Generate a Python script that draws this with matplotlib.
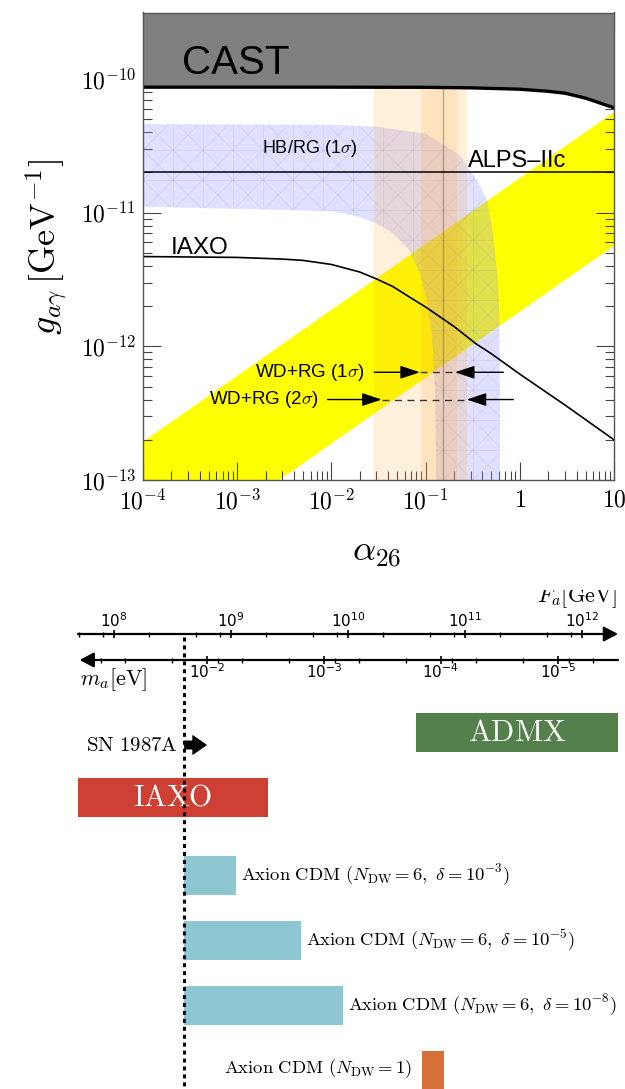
import matplotlib
matplotlib.use('Agg')
from matplotlib import pyplot as plt
from matplotlib.ticker import FixedLocator, FixedFormatter, NullFormatter, LogLocator
from matplotlib.transforms import offset_copy, blended_transform_factory, IdentityTransform

plt.rcParams['mathtext.fontset'] = 'cm'
plt.rcParams['font.family'] = ['Liberation Sans', 'DejaVu Sans']

# ---------------- top panel: g_agamma vs alpha_26 ----------------
cast_alpha = [1e-4, 1e-2, 0.1, 0.3, 1, 2, 3, 5, 10]
cast_g = [8.7e-11, 8.7e-11, 8.68e-11, 8.6e-11, 8.4e-11, 8.1e-11, 7.85e-11, 7.2e-11, 6.1e-11]

alps_g = 2.0e-11

iaxo_alpha = [1e-4, 1e-3, 3e-3, 5e-3, 1e-2, 2e-2, 3e-2, 4.5e-2, 7e-2, 0.1, 0.2, 0.34, 0.5, 1, 3, 10]
iaxo_g = [4.7e-12, 4.63e-12, 4.5e-12, 4.4e-12, 4.1e-12, 3.6e-12, 3.2e-12, 2.8e-12, 2.3e-12,
          1.97e-12, 1.41e-12, 1.05e-12, 8.8e-13, 6.2e-13, 3.65e-13, 2.0e-13]

hb_up_alpha = [1e-4, 1e-2, 3e-2, 0.1, 0.23, 0.36, 0.45, 0.52, 0.59, 0.605, 0.613, 0.618, 0.62]
hb_up_g = [4.6e-11, 4.55e-11, 4.4e-11, 3.9e-11, 2.7e-11, 1.7e-11, 1.24e-11, 7.0e-12, 3.0e-12,
           1.6e-12, 7e-13, 2.5e-13, 5e-14]
hb_lo_alpha = [1e-4, 1e-2, 2e-2, 3e-2, 4.5e-2, 6.8e-2, 8.7e-2, 0.103, 0.116, 0.12, 0.126, 0.129, 0.13]
hb_lo_g = [1.11e-11, 1.03e-11, 9.3e-12, 8.3e-12, 7.0e-12, 5.2e-12, 3.5e-12, 2.2e-12, 1.25e-12,
           9.0e-13, 4.5e-13, 1.5e-13, 5e-14]

yel_alpha = [1e-4, 10]
yel_upper = [1.96e-13, 5.75e-11]
yel_lower = [1.96e-14, 5.75e-12]

wdrg_2s = [0.0283, 0.277]
wdrg_1s = [0.089, 0.214]
wdrg_best = 0.154

# arrows: g, left tail, left tip, right tip, right tail
wd1 = [6.4e-13, 0.0285, 0.087, 0.205, 0.67]
wd2 = [4.0e-13, 9.1e-3, 0.0342, 0.273, 0.853]

xtick_vals = [1e-4, 1e-3, 1e-2, 1e-1, 1, 10]
xtick_labels = [r'$10^{-4}$', r'$10^{-3}$', r'$10^{-2}$', r'$10^{-1}$', r'$1$', r'$10$']
ytick_vals = [1e-13, 1e-12, 1e-11, 1e-10]
ytick_labels = [r'$10^{-13}$', r'$10^{-12}$', r'$10^{-11}$', r'$10^{-10}$']

# ---------------- bottom panel: F_a / m_a ranges ----------------
ma_times_fa = 6.2e6  # eV * GeV
fa_major = [1e8, 1e9, 1e10, 1e11, 1e12]
fa_major_labels = [r'$10^{8}$', r'$10^{9}$', r'$10^{10}$', r'$10^{11}$', r'$10^{12}$']
fa_minor = [5e7, 8e7, 2e8, 5e8, 8e8, 2e9, 5e9, 8e9, 2e10, 5e10, 8e10, 2e11, 5e11, 8e11]
ma_major = [1e-2, 1e-3, 1e-4, 1e-5]
ma_major_labels = [r'$10^{-2}$', r'$10^{-3}$', r'$10^{-4}$', r'$10^{-5}$']
ma_minor = [8e-2, 5e-2, 2e-2, 8e-3, 5e-3, 2e-3, 8e-4, 5e-4, 2e-4, 8e-5, 5e-5, 2e-5, 8e-6, 5e-6]

sn_fa = 4e8
admx_fa = [3.8e10, 3e12]
iaxo_fa = [4e7, 2.07e9]
cdm6_ends = [1.11e9, 4.0e9, 9.0e9]
cdm6_labels = [r'$\mathrm{Axion\ CDM}\ (N_{\rm DW}=6,\ \delta=10^{-3})$',
               r'$\mathrm{Axion\ CDM}\ (N_{\rm DW}=6,\ \delta=10^{-5})$',
               r'$\mathrm{Axion\ CDM}\ (N_{\rm DW}=6,\ \delta=10^{-8})$']
cdm1_fa = [4.25e10, 6.6e10]

fig = plt.figure(figsize=(6.25, 10.89), dpi=100)

# ================= top panel =================
ax_box = [143/625, 1 - 480/1089, 471/625, 467.5/1089]
ax = fig.add_axes(ax_box)
ax.set_xscale('log')
ax.set_yscale('log')
ax.set_xlim(1e-4, 10)
ax.set_ylim(1e-13, 3.15e-10)

ax.fill_between(yel_alpha, yel_lower, yel_upper, color='#ffff00', lw=0, zorder=1)

hb = ax.fill(hb_up_alpha + hb_lo_alpha[::-1], hb_up_g + hb_lo_g[::-1],
             facecolor=(0.6, 0.6, 1.0, 0.3), lw=0, zorder=2)[0]

# faint mesh pattern inside the HB/RG band (in pixels)
x0 = ax_box[0] * 625
y0 = ax_box[1] * 1089
w = ax_box[2] * 625
h = ax_box[3] * 1089
step = 30
mesh = []
for i in range(-20, 20):
    mesh.append(([x0 + i * step, x0 + i * step], [y0, y0 + h]))
    mesh.append(([x0, x0 + w], [y0 + i * step, y0 + i * step]))
    mesh.append(([x0 + i * step - h, x0 + i * step + h], [y0 - h, y0 + h]))
    mesh.append(([x0 + i * step + h, x0 + i * step - h], [y0 - h, y0 + h]))
for xs, ys in mesh:
    ln, = ax.plot(xs, ys, transform=IdentityTransform(), color=(0.45, 0.45, 0.85, 0.13),
                  lw=0.7, zorder=2.1)
    ln.set_clip_path(hb)

orange = (1.0, 0.65, 0.2, 0.17)
ax.axvspan(wdrg_2s[0], wdrg_2s[1], color=orange, lw=0, zorder=3)
ax.axvspan(wdrg_1s[0], wdrg_1s[1], color=orange, lw=0, zorder=3)
ax.axvline(wdrg_best, color=(0.55, 0.48, 0.42, 0.6), lw=1, zorder=3)

ax.fill_between(cast_alpha, cast_g, 1e-9, color='#808080', lw=0, zorder=4)
ax.plot(cast_alpha, cast_g, color='k', lw=2.4, zorder=5)
ax.axhline(alps_g, color='k', lw=1.1, zorder=5)
ax.plot(iaxo_alpha, iaxo_g, color='k', lw=1.2, zorder=5)

for wd in [wd1, wd2]:
    g, lt, lp, rp, rt = wd
    arr = dict(arrowstyle='-|>,head_length=1.2,head_width=0.4', color='k', lw=1.0,
               mutation_scale=10, shrinkA=0, shrinkB=0)
    ax.annotate('', xy=(lp, g), xytext=(lt, g), arrowprops=arr, zorder=6)
    ax.annotate('', xy=(rp, g), xytext=(rt, g), arrowprops=arr, zorder=6)
    ax.plot([lp, rp], [g, g], color='#333333', lw=1.0, ls=(0, (5, 4)), zorder=6)

ax.text(2.6e-4, 1.1e-10, 'CAST', fontsize=29, va='baseline', zorder=7)
ax.text(1.84e-3, 2.79e-11, r'HB/RG (1$\sigma$)', fontsize=13, va='baseline', zorder=7)
ax.text(0.28, 2.2e-11, 'ALPS\u2013IIc', fontsize=17, va='baseline', zorder=7)
ax.text(1.95e-4, 4.93e-12, 'IAXO', fontsize=17.5, va='baseline', zorder=7)
ax.text(0.0228, wd1[0], r'WD+RG (1$\sigma$)', fontsize=13.5, ha='right', va='center', zorder=7)
ax.text(7.3e-3, wd2[0], r'WD+RG (2$\sigma$)', fontsize=13.5, ha='right', va='center', zorder=7)

ax.xaxis.set_major_locator(FixedLocator(xtick_vals))
ax.xaxis.set_major_formatter(FixedFormatter(xtick_labels))
ax.yaxis.set_major_locator(FixedLocator(ytick_vals))
ax.yaxis.set_major_formatter(FixedFormatter(ytick_labels))
ax.xaxis.set_minor_locator(LogLocator(base=10, subs=range(2, 10), numticks=20))
ax.yaxis.set_minor_locator(LogLocator(base=10, subs=range(2, 10), numticks=20))
ax.xaxis.set_minor_formatter(NullFormatter())
ax.yaxis.set_minor_formatter(NullFormatter())
ax.tick_params(which='both', direction='in', top=True, right=True, color='#444444', width=0.8)
ax.tick_params(which='major', length=13, labelsize=17)
ax.tick_params(which='minor', length=6.5)
ax.tick_params(axis='x', pad=7)
ax.tick_params(axis='y', pad=5)
for s in ax.spines.values():
    s.set_color('#555555')
    s.set_linewidth(1.0)
    s.set_zorder(8)

ax.set_ylabel(r'$g_{a\gamma}\,[\mathrm{GeV}^{-1}]$', fontsize=26, va='center')
ax.yaxis.set_label_coords(-0.205, 0.5)
ax.set_xlabel(r'$\alpha_{26}$', fontsize=26, va='center')
ax.xaxis.set_label_coords(0.495, -0.156)

# ================= bottom panel =================
bx = fig.add_axes([78/625, 0, 540/625, 499/1089])
bx.set_xscale('log')
bx.set_xlim(4.92e7, 2.03e12)
bx.set_ylim(1089, 590)
bx.axis('off')
mixed = blended_transform_factory(bx.transAxes, bx.transData)

# F_a axis (arrow to the right)
y_fa = 634
y_ma = 660
bx.annotate('', xy=(1, y_fa), xytext=(0, y_fa), xycoords=('axes fraction', 'data'),
            textcoords=('axes fraction', 'data'),
            arrowprops=dict(arrowstyle='-|>,head_length=0.85,head_width=0.45', color='k', lw=1.6,
                            mutation_scale=10, shrinkA=0, shrinkB=0))
bx.vlines(fa_major, y_fa - 4, y_fa + 4, color='k', lw=1.2)
bx.vlines(fa_minor, y_fa - 2.5, y_fa + 2.5, color='k', lw=1.0)
for v, lab in zip(fa_major, fa_major_labels):
    bx.text(v, 627, lab, fontsize=11, ha='center', va='baseline', math_fontfamily='dejavusans')

# m_a axis (arrow to the left)
bx.annotate('', xy=(0.003, y_ma), xytext=(1, y_ma), xycoords=('axes fraction', 'data'),
            textcoords=('axes fraction', 'data'),
            arrowprops=dict(arrowstyle='-|>,head_length=0.85,head_width=0.45', color='k', lw=1.6,
                            mutation_scale=10, shrinkA=0, shrinkB=0))
bx.vlines([ma_times_fa / m for m in ma_major], y_ma - 4, y_ma + 4, color='k', lw=1.2)
bx.vlines([ma_times_fa / m for m in ma_minor], y_ma - 2.5, y_ma + 2.5, color='k', lw=1.0)
for m, lab in zip(ma_major, ma_major_labels):
    bx.text(ma_times_fa / m, 678, lab, fontsize=11, ha='center', va='baseline',
            math_fontfamily='dejavusans')

bx.text(0.004, 680, r'$m_a[\mathrm{eV}]$', fontsize=16, ha='left', va='center', transform=mixed)
bx.text(0.998, 602, r'$F_a[\mathrm{GeV}]$', fontsize=16, ha='right', va='baseline', clip_on=True,
        transform=mixed)

# SN 1987A bound
bx.vlines(sn_fa, 637, 1095, color='k', lw=2.2, linestyles=(0, (1.3, 1.3)), zorder=5)
bx.annotate(r'$\mathrm{SN\ 1987A}$', xy=(sn_fa, 745), xytext=(-7, 0), textcoords='offset pixels',
            fontsize=15, ha='right', va='center')
tip = offset_copy(bx.transData, fig=fig, x=22, y=0, units='dots')
bx.annotate('', xy=(sn_fa, 745), xycoords=tip, xytext=(sn_fa, 745), textcoords='data',
            arrowprops=dict(arrowstyle='simple,head_length=0.52,head_width=0.72,tail_width=0.31',
                            fc='k', ec='k', lw=0.5, mutation_scale=19, shrinkA=0, shrinkB=0))

# bars
bh = 39
xl = bx.get_xlim()
bx.barh(732.5, admx_fa[1] - admx_fa[0], left=admx_fa[0], height=bh, color='#54804c', lw=0)
c = (max(admx_fa[0], xl[0]) * min(admx_fa[1], xl[1])) ** 0.5
bx.text(c, 732.5, r'$\mathrm{ADMX}$', color='white', fontsize=22, ha='center', va='center')

bx.barh(797.5, iaxo_fa[1] - iaxo_fa[0], left=iaxo_fa[0], height=bh, color='#cd4033', lw=0)
c = (max(iaxo_fa[0], xl[0]) * min(iaxo_fa[1], xl[1])) ** 0.5
bx.text(c, 797.5, r'$\mathrm{IAXO}$', color='white', fontsize=21.5, ha='center', va='center')

for yc, end, lab in zip([875, 940, 1005], cdm6_ends, cdm6_labels):
    bx.barh(yc, end - sn_fa, left=sn_fa, height=bh, color='#8ec7d2', lw=0, zorder=2)
    bx.annotate(lab, xy=(end, yc), xytext=(5, 0), textcoords='offset pixels',
                fontsize=13.4, ha='left', va='center')

bx.barh(1070, cdm1_fa[1] - cdm1_fa[0], left=cdm1_fa[0], height=bh, color='#d67038', lw=0)
bx.annotate(r'$\mathrm{Axion\ CDM}\ (N_{\rm DW}=1)$', xy=(cdm1_fa[0], 1069), xytext=(-9, 0),
            textcoords='offset pixels', fontsize=13.4, ha='right', va='center')

fig.savefig('out.png', dpi=100)
